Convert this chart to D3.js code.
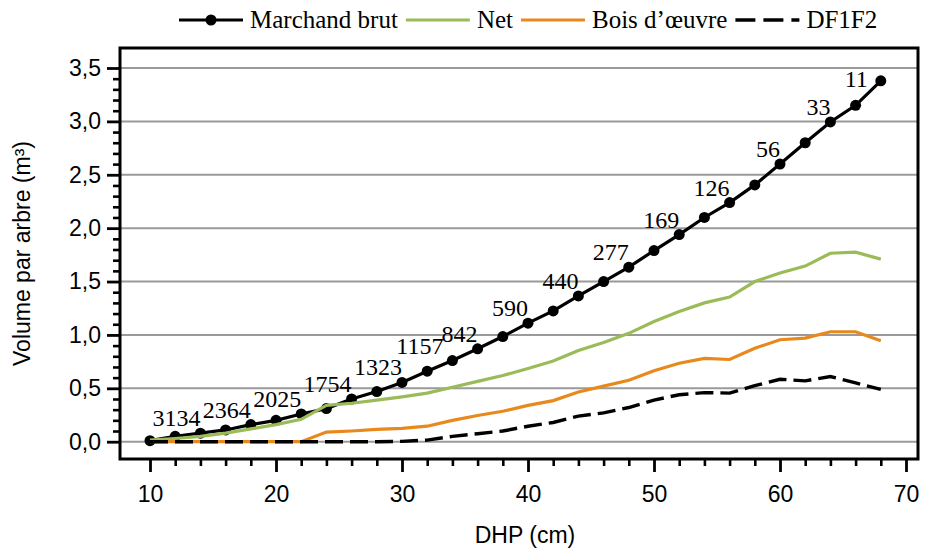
<!DOCTYPE html>
<html>
<head>
<meta charset="utf-8">
<script src="https://cdn.jsdelivr.net/npm/d3@7"></script>
<style>
  body { margin: 0; background: #fff; }
</style>
</head>
<body>
<div id="chart"></div>
<script>
// DHP classes (cm)
const dhp = [10, 12, 14, 16, 18, 20, 22, 24, 26, 28, 30, 32, 34, 36, 38, 40, 42, 44, 46, 48, 50, 52, 54, 56, 58, 60, 62, 64, 66, 68];

// volume par arbre (m3)
const marchandBrut = [0.01, 0.05, 0.08, 0.11, 0.16, 0.20, 0.26, 0.31, 0.40, 0.47, 0.555, 0.66, 0.76, 0.87, 0.985, 1.11, 1.225, 1.365, 1.50, 1.635, 1.79, 1.94, 2.10, 2.24, 2.405, 2.60, 2.80, 2.995, 3.15, 3.38];
const net = [0.015, 0.03, 0.05, 0.08, 0.12, 0.16, 0.21, 0.34, 0.36, 0.39, 0.42, 0.455, 0.51, 0.565, 0.62, 0.685, 0.755, 0.855, 0.93, 1.015, 1.125, 1.22, 1.30, 1.355, 1.50, 1.58, 1.645, 1.765, 1.775, 1.71];
const boisOeuvre = [0, 0, 0, 0, 0, 0, 0, 0.09, 0.10, 0.115, 0.125, 0.145, 0.20, 0.245, 0.285, 0.34, 0.385, 0.465, 0.52, 0.575, 0.665, 0.735, 0.78, 0.77, 0.875, 0.955, 0.97, 1.03, 1.03, 0.945];
const df1f2 = [0, 0, 0, 0, 0, 0, 0, 0, 0, 0, 0.003, 0.015, 0.05, 0.075, 0.10, 0.145, 0.18, 0.24, 0.27, 0.32, 0.39, 0.44, 0.46, 0.455, 0.525, 0.585, 0.57, 0.61, 0.55, 0.49];

// nombre de tiges, shown next to some Marchand brut points
const countDhp = [14, 18, 22, 26, 30, 34, 36, 40, 44, 48, 52, 56, 60, 64, 68];
const counts = ["3134", "2364", "2025", "1754", "1323", "1157", "842", "590", "440", "277", "169", "126", "56", "33", "11"];

const xTicks = [10, 20, 30, 40, 50, 60, 70];
const yTicks = [0, 0.5, 1, 1.5, 2, 2.5, 3, 3.5];

const seriesNames = ["Marchand brut", "Net", "Bois d\u2019\u0153uvre", "DF1F2"];

const width = 925, height = 550;
const frame = { left: 120, right: 918, top: 48, bottom: 459 };

const svg = d3.select("#chart")
  .append("svg")
  .attr("width", width)
  .attr("height", height);

const x = d3.scaleLinear()
  .domain([10, 70])
  .range([150, 906]);

const y = d3.scaleLinear()
  .domain([0, 3.5])
  .range([441.7, 68]);

const fmt = d => d3.format(".1f")(d).replace(".", ",");

// gridlines
svg.append("g")
  .selectAll("line")
  .data(yTicks)
  .enter()
  .append("line")
  .attr("x1", frame.left)
  .attr("x2", frame.right)
  .attr("y1", d => y(d))
  .attr("y2", d => y(d))
  .attr("stroke", "#9a9a9a")
  .attr("stroke-width", 2);

// y axis, minor then major ticks
const yMinor = d3.range(0, 36).map(i => i / 10).filter(v => !yTicks.some(t => Math.abs(t - v) < 1e-9));
svg.append("g")
  .attr("transform", `translate(${frame.left},0)`)
  .call(d3.axisLeft(y).tickValues(yMinor).tickSize(7).tickFormat(""))
  .call(g => g.select(".domain").remove())
  .call(g => g.selectAll("line").attr("stroke-width", 2.6));

svg.append("g")
  .attr("transform", `translate(${frame.left},0)`)
  .call(d3.axisLeft(y).tickValues(yTicks).tickSize(13).tickPadding(6).tickFormat(fmt))
  .call(g => g.select(".domain").remove())
  .call(g => g.selectAll("line").attr("stroke-width", 2.8))
  .call(g => g.selectAll("text")
    .attr("font-family", "Liberation Sans, Arial, sans-serif")
    .attr("font-size", 23)
    .attr("fill", "#000"));

// x axis, ticks hang below the frame
const xMinor = d3.range(12, 70, 2).filter(v => v % 10 !== 0);
svg.append("g")
  .attr("transform", `translate(0,${frame.bottom})`)
  .call(d3.axisBottom(x).tickValues(xMinor).tickSize(7).tickFormat(""))
  .call(g => g.select(".domain").remove())
  .call(g => g.selectAll("line").attr("stroke-width", 2.6));

svg.append("g")
  .attr("transform", `translate(0,${frame.bottom})`)
  .call(d3.axisBottom(x).tickValues(xTicks).tickSize(13).tickPadding(14).tickFormat(d3.format("d")))
  .call(g => g.select(".domain").remove())
  .call(g => g.selectAll("line").attr("stroke-width", 2.8))
  .call(g => g.selectAll("text")
    .attr("font-family", "Liberation Sans, Arial, sans-serif")
    .attr("font-size", 23)
    .attr("fill", "#000"));

// frame
svg.append("rect")
  .attr("x", frame.left)
  .attr("y", frame.top)
  .attr("width", frame.right - frame.left)
  .attr("height", frame.bottom - frame.top)
  .attr("fill", "none")
  .attr("stroke", "#000")
  .attr("stroke-width", 3);

// axis titles
svg.append("text")
  .attr("x", (frame.left + frame.right) / 2 + 6)
  .attr("y", 543)
  .attr("text-anchor", "middle")
  .attr("font-family", "Liberation Sans, Arial, sans-serif")
  .attr("font-size", 23)
  .text("DHP (cm)");

svg.append("text")
  .attr("transform", `translate(30,${(frame.top + frame.bottom) / 2}) rotate(-90)`)
  .attr("text-anchor", "middle")
  .attr("font-family", "Liberation Sans, Arial, sans-serif")
  .attr("font-size", 23)
  .text("Volume par arbre (m\u00b3)");

// lines
const line = vals => d3.line()
  .x((d, i) => x(dhp[i]))
  .y(d => y(d))(vals);

const series = [
  { name: seriesNames[0], values: marchandBrut, color: "#000", width: 3.2, dash: null },
  { name: seriesNames[1], values: net, color: "#9bbb59", width: 3.2, dash: null },
  { name: seriesNames[2], values: boisOeuvre, color: "#e8891d", width: 3.2, dash: null },
  { name: seriesNames[3], values: df1f2, color: "#000", width: 3.4, dash: "18,7" }
];

// marchand brut first with its markers, other lines on top
svg.append("path")
  .attr("d", line(marchandBrut))
  .attr("fill", "none")
  .attr("stroke", "#000")
  .attr("stroke-width", 3.2);

svg.selectAll("circle.pt")
  .data(marchandBrut)
  .enter()
  .append("circle")
  .attr("class", "pt")
  .attr("cx", (d, i) => x(dhp[i]))
  .attr("cy", d => y(d))
  .attr("r", 5.5)
  .attr("fill", "#000");

series.slice(1).forEach(s => {
  svg.append("path")
    .attr("d", line(s.values))
    .attr("fill", "none")
    .attr("stroke", s.color)
    .attr("stroke-width", s.width)
    .attr("stroke-dasharray", s.dash);
});

// tree counts
svg.selectAll("text.count")
  .data(counts)
  .enter()
  .append("text")
  .attr("class", "count")
  .attr("x", (d, i) => {
    const px = x(countDhp[i]);
    if (i === counts.length - 1) return px - 13;
    return d === "1157" ? px - 9 : px;
  })
  .attr("y", (d, i) => {
    const py = y(marchandBrut[dhp.indexOf(countDhp[i])]);
    return i === counts.length - 1 ? py + 6 : py - 7;
  })
  .attr("text-anchor", "end")
  .attr("font-family", "Liberation Serif, Times New Roman, serif")
  .attr("font-size", 24)
  .attr("fill", "#000")
  .text(d => d);

// legend
const legend = svg.append("g");
let lx = 179;
const ly = 20;
series.forEach((s, i) => {
  const sw = 64;
  legend.append("line")
    .attr("x1", lx)
    .attr("x2", lx + sw)
    .attr("y1", ly)
    .attr("y2", ly)
    .attr("stroke", s.color)
    .attr("stroke-width", s.width)
    .attr("stroke-dasharray", s.dash ? "20,8" : null);
  if (i === 0) {
    legend.append("circle")
      .attr("cx", lx + sw / 2)
      .attr("cy", ly)
      .attr("r", 5.5)
      .attr("fill", "#000");
  }
  const t = legend.append("text")
    .attr("x", lx + sw + 7)
    .attr("y", ly + 8)
    .attr("font-family", "Liberation Serif, Times New Roman, serif")
    .attr("font-size", 25)
    .attr("fill", "#000")
    .text(s.name);
  lx += sw + 7 + t.node().getComputedTextLength() + 8;
});
</script>
</body>
</html>
